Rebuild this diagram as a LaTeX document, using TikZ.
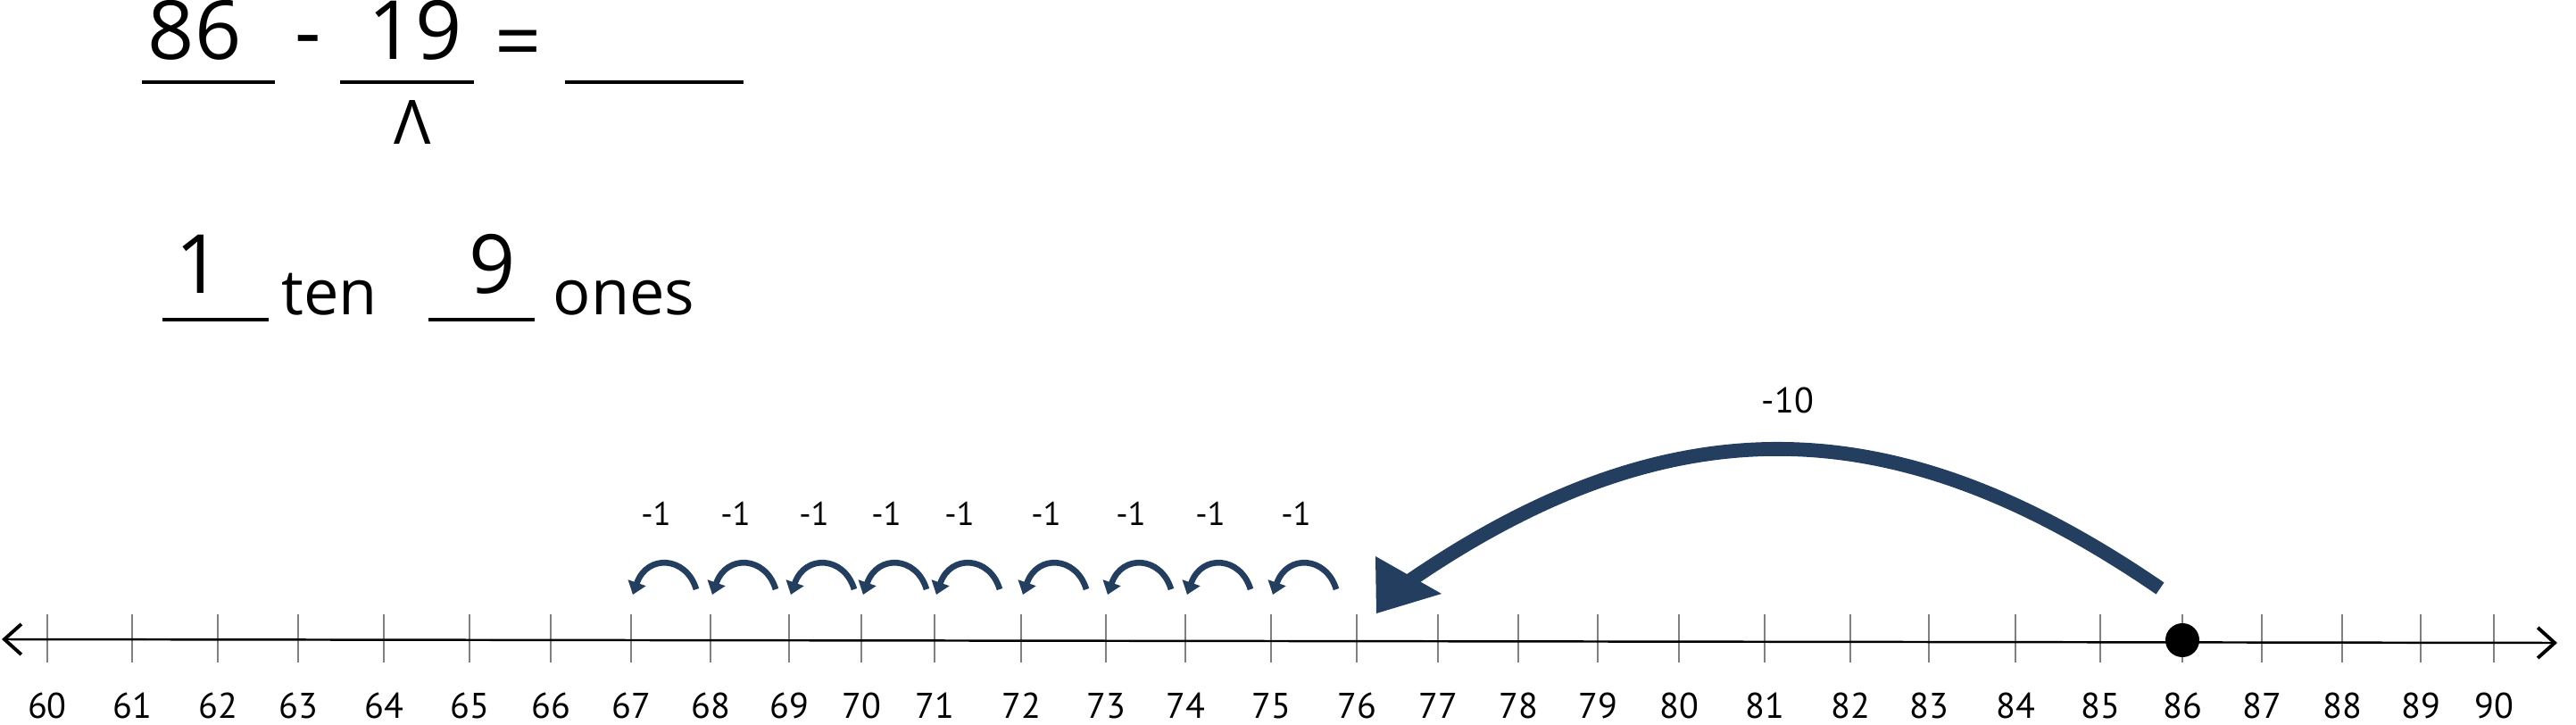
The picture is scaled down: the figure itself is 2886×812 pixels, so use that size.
\documentclass[tikz,border=0pt]{standalone}
\usepackage{fontspec}
\setmainfont{Open Sans}
\newfontfamily\handfont{PT Sans}
\usetikzlibrary{arrows.meta}
\definecolor{jumpblue}{HTML}{243E60}

\begin{document}
\begin{tikzpicture}[
    x=0.01cm, y=-0.01cm,
    bigdigit/.style={inner sep=0pt, anchor=base, font=\fontsize{26}{30}\selectfont},
    sign/.style={inner sep=0pt, font=\fontsize{26}{30}\selectfont},
    word/.style={inner sep=0pt, anchor=base west, font=\fontsize{20}{24}\selectfont},
    blank/.style={line width=1.3pt},
    tick/.style={gray, line width=0.45pt},
    numlabel/.style={inner sep=0pt, anchor=base, font=\handfont\fontsize{11.4}{13}\selectfont},
    hoplabel/.style={inner sep=0pt, anchor=base, font=\handfont\fontsize{10.5}{12}\selectfont},
    barb/.tip={Straight Barb[length=5.4pt,width=9.7pt,line width=1.1pt]},
    axis/.style={line width=0.7pt, barb-barb},
    hop/.style={jumpblue, line width=1.9pt, -{Triangle[length=4pt,width=5.8pt]}},
    jump/.style={jumpblue, line width=4.5pt}
]
\useasboundingbox (0,0) rectangle (2886,812);

% Subtraction
\node[bigdigit] (minuend) at (218,67) {86};
\node[sign] (minus) at (345,54) {-};
\node[bigdigit] (subtrahend) at (465,67) {19};
\node[sign] (equals) at (581,56) {=};
\node[inner sep=0pt, anchor=south, font=\fontsize{19.5}{22}\selectfont] (split) at (462,162) {Λ};
\draw[blank] (159,92) -- (308,92);
\draw[blank] (381,92) -- (531,92);
\draw[blank] (633,92) -- (833,92);

% Tens and ones
\node[bigdigit] (tens) at (223,328) {1};
\draw[blank] (182,358) -- (301,358);
\node[word] (tenword) at (315,352) {ten};
\node[bigdigit] (ones) at (552,328) {9};
\draw[blank] (480,358) -- (599,358);
\node[word] (oneword) at (619,352) {ones};

% Number line
\foreach \n/\x in {60/53, 61/148, 62/244, 63/334, 64/430, 65/526, 66/617, 67/707,
    68/796, 69/884, 70/965, 71/1047, 72/1144, 73/1239, 74/1328, 75/1424, 76/1520,
    77/1611, 78/1701, 79/1790, 80/1881, 81/1977, 82/2073, 83/2161, 84/2258,
    85/2353, 86/2445, 87/2534, 88/2624, 89/2712, 90/2794} {
  \draw[tick] (\x,688) -- (\x,742);
  \coordinate (n\n) at (\x,717);
  \node[numlabel] (lab\n) at (\x,804) {\n};
}
\coordinate (lineL) at (2,716);
\coordinate (lineR) at (2865,720);
\draw[axis] (lineL) -- (lineR);
\fill (n86) circle[radius=0.19cm];

% Jump back ten
\coordinate (jumpfrom) at (2420,659);
\coordinate (jumpto) at (1580,650);
\draw[jump] (jumpfrom) .. controls (2130,460) and (1880,445) .. (jumpto);
\fill[jumpblue] (1542,687) -- (1541,623) -- (1615,665) -- cycle;
\node[numlabel] (tenlabel) at (2003,462) {-10};

% Hops back one
\foreach \x [count=\i] in {707,796,884,965,1047,1144,1239,1328,1424} {
  \draw[hop] (\x+73,660) .. controls (\x+62,623) and (\x+18,620) .. (\x+2,666);
  \node[hoplabel] (hop\i) at (\x+28,588) {-1};
}

\end{tikzpicture}
\end{document}
